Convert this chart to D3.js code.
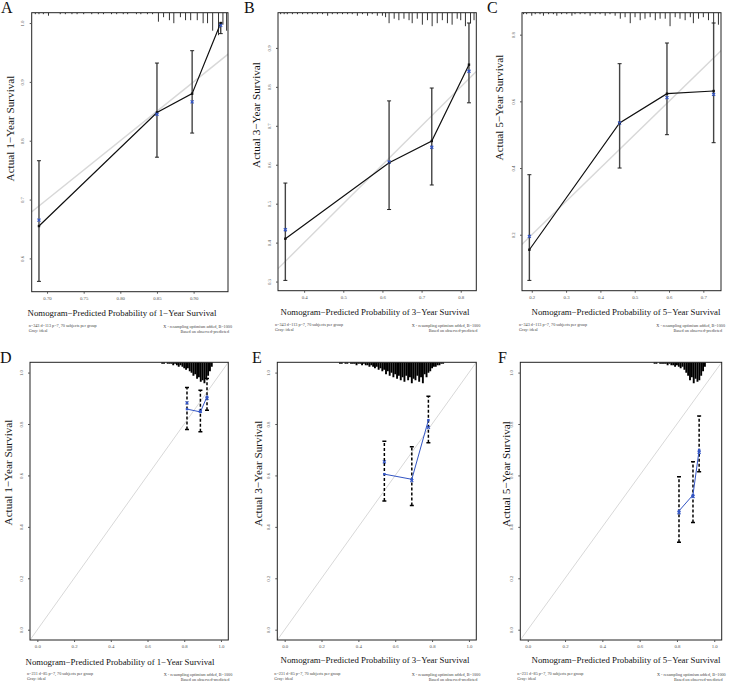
<!DOCTYPE html>
<html><head><meta charset="utf-8">
<script src="https://cdn.jsdelivr.net/npm/d3@7/dist/d3.min.js"></script>
<style>body{margin:0;background:#fff}svg{display:block}</style>
</head><body><svg id="c" width="729" height="681"></svg>
<script>
// ---------------- DATA ----------------
const panelLetters = ["A", "B", "C", "D", "E", "F"];
const yearLabels = ["1", "3", "5", "1", "3", "5"];

// Panel A (1-year, training)
const predA = [0.689, 0.850, 0.898, 0.937];
const obsA  = [0.655, 0.848, 0.880, 1.000];
const corrA = [0.665, 0.845, 0.866, 0.996];
const lowA  = [0.561, 0.772, 0.813, 0.982];
const highA = [0.766, 0.932, 0.953, 1.000];
const rugXA = [0.684,0.689,0.695,0.702,0.718,0.725,0.734,0.741,0.750,0.761,0.770,0.777,0.788,0.795,0.804,0.810,0.822,0.828,0.837,0.844,
               0.852,0.859,0.867,0.873,0.882,0.889,0.896,0.905,0.913,0.919,0.926,0.934,0.940,0.945];
const rugNA = [1,1,1,2,1,1,1,1,1,1,1,1,1,1,1,1,1,1,1,1,
               6,3,5,7,3,5,5,5,7,7,12,15,8,12];
const xTicksA = [0.70, 0.75, 0.80, 0.85, 0.90];
const yTicksA = [0.6, 0.7, 0.8, 0.9, 1.0];

// Panel B (3-year, training)
const predB = [0.352, 0.617, 0.726, 0.821];
const obsB  = [0.410, 0.605, 0.661, 0.857];
const corrB = [0.433, 0.607, 0.645, 0.840];
const lowB  = [0.303, 0.485, 0.548, 0.759];
const highB = [0.553, 0.764, 0.797, 0.964];
const rugXB = [0.340,0.349,0.357,0.370,0.383,0.396,0.409,0.421,0.434,0.447,0.460,0.472,0.485,0.498,0.511,0.523,0.536,0.549,0.562,0.574,0.587,0.600,0.608,
               0.617,0.630,0.642,0.655,0.668,0.676,0.689,0.702,0.715,0.727,0.740,0.753,0.766,0.778,0.791,0.800,0.812,0.825,0.834];
const rugNB = [1,1,1,1,1,1,1,1,1,1,2,1,1,1,1,1,2,1,2,1,2,2,3,
               7,4,5,4,5,7,4,8,5,9,7,5,7,8,4,5,9,7,5];
const xTicksB = [0.4, 0.5, 0.6, 0.7, 0.8];
const yTicksB = [0.3, 0.4, 0.5, 0.6, 0.7, 0.8, 0.9];

// Panel C (5-year, training)
const predC = [0.193, 0.456, 0.594, 0.730];
const obsC  = [0.155, 0.535, 0.623, 0.631];
const corrC = [0.195, 0.535, 0.611, 0.621];
const lowC  = [0.063, 0.400, 0.500, 0.476];
const highC = [0.380, 0.713, 0.775, 0.835];
const rugXC = [0.176,0.185,0.200,0.210,0.224,0.234,0.249,0.263,0.273,0.287,0.302,0.317,0.326,0.341,0.355,0.370,0.385,0.399,0.414,0.428,0.443,
               0.458,0.472,0.487,0.501,0.516,0.530,0.545,0.560,0.574,0.589,0.603,0.618,0.632,0.647,0.662,0.671,0.686,0.700,0.715,0.730,0.744];
const rugNC = [1,1,2,1,1,2,1,1,2,1,1,2,1,1,1,2,1,1,2,1,2,
               4,3,7,3,5,4,3,5,4,4,9,3,4,5,3,7,4,3,5,7,8];
const xTicksC = [0.2, 0.3, 0.4, 0.5, 0.6, 0.7];
const yTicksC = [0.2, 0.4, 0.6, 0.8];

// Panel D (1-year, validation)
const predD = [0.815, 0.888, 0.924];
const obsD  = [0.858, 0.847, 0.906];
const corrD = [0.882, 0.850, 0.900];
const lowD  = [0.779, 0.770, 0.854];
const highD = [0.942, 0.931, 0.977];
const rugXD = d3.range(0.68, 0.955, 0.01);
const rugND = [1,1,0,1,1,1,2,1,2,3,2,3,4,5,4,6,7,9,8,11,10,13,12,14,11,9,6,3];

// Panel E (3-year, validation)
const predE = [0.541, 0.690, 0.780];
const obsE  = [0.605, 0.585, 0.815];
const corrE = [0.653, 0.580, 0.787];
const lowE  = [0.501, 0.483, 0.727];
const highE = [0.733, 0.712, 0.908];
const rugXE = d3.range(0.30, 0.865, 0.01);
const rugNE = [1,1,0,1,1,0,1,1,1,2,1,1,2,1,2,2,3,2,3,4,3,5,4,6,5,8,6,9,7,10,8,11,9,12,10,13,9,12,10,14,11,12,9,13,10,14,8,10,7,6,4,3,3,2,2,1,1];

// Panel F (5-year, validation)
const predF = [0.811, 0.886, 0.919];
const obsF  = [0.462, 0.524, 0.699];
const corrF = [0.455, 0.518, 0.690];
const lowF  = [0.340, 0.417, 0.614];
const highF = [0.595, 0.653, 0.831];
const rugXF = d3.range(0.68, 0.955, 0.01);
const rugNF = [1,1,0,1,1,1,1,2,1,2,2,3,2,3,4,3,5,7,9,12,10,14,11,13,12,9,6,3];

const ticksFull = [0.0, 0.2, 0.4, 0.6, 0.8, 1.0];

const footLeftTrain = ["n=343 d=113 p=7, 70 subjects per group", "Gray: ideal"];
const footLeftValid = ["n=231 d=85 p=7, 70 subjects per group", "Gray: ideal"];
const footRight = ["X - resampling optimism added, B=1000", "Based on observed-predicted"];

// ---------------- LAYOUT ----------------
const serif = "'Liberation Serif','Times New Roman',serif";
const blue = "#3355c4";
const panels = [
  {letter:panelLetters[0], year:yearLabels[0], pred:predA, obs:obsA, corr:corrA, low:lowA, high:highA, rugX:rugXA, rugN:rugNA,
   xt:xTicksA, yt:yTicksA, xf:".2f", yf:".1f", fixed:false, valid:false, foot:footLeftTrain,
   l:31.7, r:228, t:12.7, b:291.7, letterX:1, ylabX:10, ylabY:128.5, xlabX:122, xlabY:313.3},
  {letter:panelLetters[1], year:yearLabels[1], pred:predB, obs:obsB, corr:corrB, low:lowB, high:highB, rugX:rugXB, rugN:rugNB,
   xt:xTicksB, yt:yTicksB, xf:".1f", yf:".1f", fixed:false, valid:false, foot:footLeftTrain,
   l:278, r:476.3, t:12.7, b:290.7, letterX:244, ylabX:256.3, ylabY:115, xlabX:375, xlabY:311.7},
  {letter:panelLetters[2], year:yearLabels[2], pred:predC, obs:obsC, corr:corrC, low:lowC, high:highC, rugX:rugXC, rugN:rugNC,
   xt:xTicksC, yt:yTicksC, xf:".1f", yf:".1f", fixed:false, valid:false, foot:footLeftTrain,
   l:522, r:721, t:12.7, b:290.7, letterX:487, ylabX:499.3, ylabY:107.5, xlabX:626, xlabY:311.7},
  {letter:panelLetters[3], year:yearLabels[3], pred:predD, obs:obsD, corr:corrD, low:lowD, high:highD, rugX:rugXD, rugN:rugND,
   xt:ticksFull, yt:ticksFull, xf:".1f", yf:".1f", fixed:true, valid:true, foot:footLeftValid,
   l:30, r:228.3, t:362.3, b:640, letterX:0, ylabX:8.3, ylabY:472.5, xlabX:120, xlabY:661.7},
  {letter:panelLetters[4], year:yearLabels[4], pred:predE, obs:obsE, corr:corrE, low:lowE, high:highE, rugX:rugXE, rugN:rugNE,
   xt:ticksFull, yt:ticksFull, xf:".1f", yf:".1f", fixed:true, valid:true, foot:footLeftValid,
   l:277.3, r:476.3, t:362.3, b:640, letterX:252, ylabX:258, ylabY:473.5, xlabX:375, xlabY:660},
  {letter:panelLetters[5], year:yearLabels[5], pred:predF, obs:obsF, corr:corrF, low:lowF, high:highF, rugX:rugXF, rugN:rugNF,
   xt:ticksFull, yt:ticksFull, xf:".1f", yf:".1f", fixed:true, valid:true, foot:footLeftValid,
   l:520.3, r:721.7, t:362.3, b:640, letterX:498, ylabX:506, ylabY:474, xlabX:626, xlabY:660},
];

const svg = d3.select("#c");

function padded(ext) { const s = ext[1] - ext[0]; return [ext[0] - 0.04 * s, ext[1] + 0.04 * s]; }

panels.forEach((p, i) => {
  const xd = p.fixed ? padded([0, 1]) : padded(d3.extent(p.pred));
  const yd = p.fixed ? padded([0, 1]) : padded(d3.extent([...p.low, ...p.high, ...p.obs, ...p.corr]));
  const x = d3.scaleLinear().domain(xd).range([p.l, p.r]);
  const y = d3.scaleLinear().domain(yd).range([p.b, p.t]);
  const g = svg.append("g");
  const clipId = "clip" + i;
  svg.append("clipPath").attr("id", clipId).append("rect")
    .attr("x", p.l).attr("y", p.t).attr("width", p.r - p.l).attr("height", p.b - p.t);
  const inner = g.append("g").attr("clip-path", `url(#${clipId})`);

  // ideal line
  const lo = Math.min(xd[0], yd[0]) - 1, hi = Math.max(xd[1], yd[1]) + 1;
  inner.append("line").attr("x1", x(lo)).attr("y1", y(lo)).attr("x2", x(hi)).attr("y2", y(hi))
    .attr("stroke", "#d8d8d8").attr("stroke-width", p.valid ? 1 : 1.4);

  // rug (distribution of predicted values)
  const rugH = d3.scaleLinear().domain([0, 1]).range([0, 1.5]);
  inner.selectAll(".rug").data(p.rugX.map((v, k) => [v, p.rugN[k]]).filter(d => d[1] > 0)).join("line")
    .attr("x1", d => x(d[0])).attr("x2", d => x(d[0]))
    .attr("y1", p.t).attr("y2", d => p.t + rugH(d[1]))
    .attr("stroke", p.valid ? "#000" : "#333").attr("stroke-width", p.valid ? 1.9 : 1);

  // error bars
  const eb = inner.selectAll(".eb").data(p.pred.map((v, k) => ({x: v, lo: p.low[k], hi: p.high[k]}))).join("g");
  eb.append("line").attr("x1", d => x(d.x)).attr("x2", d => x(d.x))
    .attr("y1", d => y(d.lo)).attr("y2", d => y(d.hi))
    .attr("stroke", p.valid ? "#000" : "#444").attr("stroke-width", p.valid ? 1.5 : 1.4)
    .attr("stroke-dasharray", p.valid ? "3,2" : null);
  ["lo", "hi"].forEach(k => {
    eb.append("line").attr("x1", d => x(d.x) - 2).attr("x2", d => x(d.x) + 2)
      .attr("y1", d => y(d[k])).attr("y2", d => y(d[k]))
      .attr("stroke", p.valid ? "#000" : "#222").attr("stroke-width", p.valid ? 1.5 : 1);
  });

  // calibration line
  const pts = p.pred.map((v, k) => [v, p.obs[k]]);
  const line = d3.line().x(d => x(d[0])).y(d => y(d[1]));
  inner.append("path").attr("d", line(pts)).attr("fill", "none")
    .attr("stroke", p.valid ? blue : "#111").attr("stroke-width", p.valid ? 1 : 1.2);
  inner.selectAll(".pt").data(pts).join("rect")
    .attr("x", d => x(d[0]) - 1.2).attr("y", d => y(d[1]) - 1.2).attr("width", 2.4).attr("height", 2.4)
    .attr("fill", p.valid ? blue : "#111");

  // bias-corrected X
  inner.selectAll(".cx").data(p.pred.map((v, k) => [v, p.corr[k]])).join("path")
    .attr("transform", d => `translate(${x(d[0])},${y(d[1])})`)
    .attr("d", "M-1.5,-1.5L1.5,1.5M-1.5,1.5L1.5,-1.5")
    .attr("stroke", blue).attr("stroke-width", 1.2).attr("fill", "none");

  // frame
  g.append("rect").attr("x", p.l).attr("y", p.t).attr("width", p.r - p.l).attr("height", p.b - p.t)
    .attr("fill", "none").attr("stroke", "#222").attr("stroke-width", 1);

  // axes
  const xa = g.append("g").attr("transform", `translate(0,${p.b})`)
    .call(d3.axisBottom(x).tickValues(p.xt).tickFormat(d3.format(p.xf)).tickSize(2).tickPadding(2.5));
  xa.select(".domain").remove();
  xa.selectAll("line").attr("stroke", "#555");
  xa.selectAll("text").attr("font-family", serif).attr("font-size", 4.8).attr("fill", "#555");

  const ya = g.append("g").attr("transform", `translate(${p.l},0)`)
    .call(d3.axisLeft(y).tickValues(p.yt).tickFormat(d3.format(p.yf)).tickSize(2).tickPadding(2));
  ya.select(".domain").remove();
  ya.selectAll("line").attr("stroke", "#555");
  ya.selectAll("text").attr("font-family", serif).attr("font-size", 4.8).attr("fill", "#555")
    .attr("transform", "rotate(-90)").attr("x", 0).attr("y", -9).attr("dy", "0.35em")
    .attr("text-anchor", "middle");

  // titles
  g.append("text").attr("x", p.letterX).attr("y", p.t + 0.5).attr("font-family", serif)
    .attr("font-size", 16).attr("fill", "#111").text(p.letter);
  g.append("text").attr("transform", `translate(${p.ylabX},${p.ylabY}) rotate(-90)`)
    .attr("text-anchor", "middle").attr("dy", "0.35em").attr("font-family", serif)
    .attr("font-size", 11.2).attr("fill", "#111").text(`Actual ${p.year}\u2212Year Survival`);
  g.append("text").attr("x", p.xlabX).attr("y", p.xlabY).attr("dy", "0.35em")
    .attr("text-anchor", "middle").attr("font-family", serif)
    .attr("font-size", 8.8).attr("fill", "#111")
    .text(`Nomogram\u2212Predicted Probability of ${p.year}\u2212Year Survival`);

  // footnotes
  p.foot.forEach((s, k) => {
    g.append("text").attr("x", p.l - 3).attr("y", p.b + 34 + k * 4.5).attr("dy", "0.35em")
      .attr("font-family", serif).attr("font-size", 4.2).attr("fill", "#444").text(s);
  });
  footRight.forEach((s, k) => {
    g.append("text").attr("x", p.r + (k ? 1 : 4)).attr("y", p.b + 35 + k * 4.8).attr("dy", "0.35em")
      .attr("text-anchor", "end")
      .attr("font-family", serif).attr("font-size", 4.2).attr("fill", "#444").text(s);
  });
});
</script></body></html>
